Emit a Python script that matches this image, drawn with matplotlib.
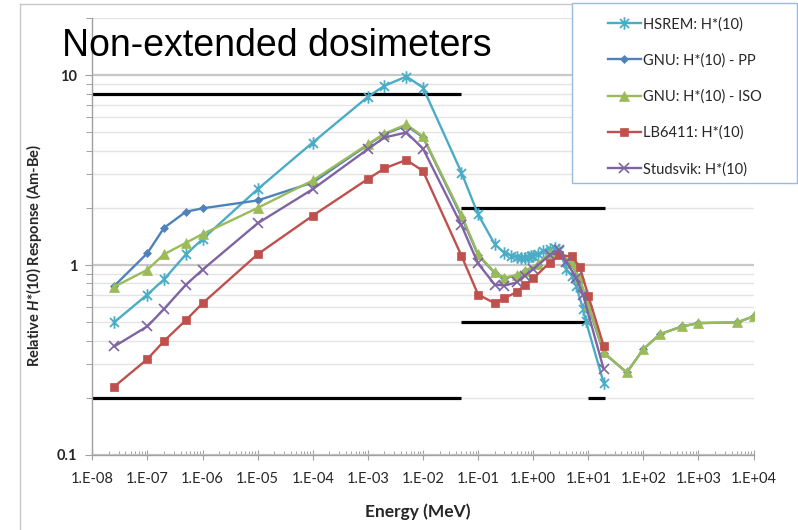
import numpy as np
import matplotlib
matplotlib.use("Agg")
import matplotlib.pyplot as plt
from matplotlib.path import Path
from matplotlib.patches import Rectangle
from matplotlib.lines import Line2D
from matplotlib.ticker import FixedLocator, FixedFormatter, NullFormatter

plt.rcParams['font.family'] = ['Lato', 'DejaVu Sans']
plt.rcParams['mathtext.fontset'] = 'custom'
plt.rcParams['mathtext.it'] = 'Lato:italic:bold'
plt.rcParams['mathtext.rm'] = 'Lato:bold'

# ---------------- data ----------------
series_names = ["HSREM: H*(10)", "GNU: H*(10) - PP", "GNU: H*(10) - ISO",
                "LB6411: H*(10)", "Studsvik: H*(10)"]

hsrem_energy = [2.5e-8, 1e-7, 2e-7, 5e-7, 1e-6, 1e-5, 1e-4, 1e-3, 2e-3, 5e-3, 1e-2,
                5e-2, 0.1, 0.2, 0.3, 0.4, 0.5, 0.6, 0.7, 0.8, 0.9, 1.0, 1.2, 1.5,
                2.0, 2.5, 3.0, 4.0, 5.0, 6.0, 8.0, 9.0, 19.0]
hsrem_resp = [0.50, 0.70, 0.84, 1.14, 1.37, 2.51, 4.42, 7.69, 8.79, 9.84, 8.61,
              3.07, 1.85, 1.29, 1.16, 1.12, 1.10, 1.09, 1.09, 1.10, 1.11, 1.12, 1.14, 1.18,
              1.22, 1.23, 1.20, 0.95, 0.88, 0.78, 0.59, 0.51, 0.24]

gnu_energy = [2.5e-8, 1e-7, 2e-7, 5e-7, 1e-6, 1e-5, 1e-4, 1e-3, 2e-3, 5e-3, 1e-2,
              5e-2, 0.1, 0.2, 0.3, 0.5, 0.7, 1.2, 2.0, 3.0, 5.0, 7.0, 10.0, 19.0,
              50.0, 100.0, 200.0, 500.0, 1000.0, 5000.0, 10000.0]
gnu_pp_resp = [0.776, 1.156, 1.57, 1.91, 1.99, 2.19, 2.72, 4.30, 4.90, 5.42, 4.72,
               1.80, 1.13, 0.91, 0.855, 0.88, 0.93, 1.00, 1.15, 1.17, 1.01, 0.84, 0.61, 0.345,
               0.272, 0.361, 0.433, 0.475, 0.495, 0.499, 0.537]
gnu_iso_resp = [0.769, 0.945, 1.14, 1.31, 1.456, 2.00, 2.79, 4.33, 4.93, 5.50, 4.76,
                1.84, 1.14, 0.915, 0.86, 0.886, 0.933, 1.01, 1.16, 1.18, 1.02, 0.85, 0.62, 0.347,
                0.272, 0.361, 0.433, 0.475, 0.495, 0.499, 0.537]

lb6411_energy = [2.5e-8, 1e-7, 2e-7, 5e-7, 1e-6, 1e-5, 1e-4, 1e-3, 2e-3, 5e-3, 1e-2,
                 5e-2, 0.1, 0.2, 0.3, 0.5, 0.7, 1.0, 2.0, 3.0, 5.0, 7.0, 10.0, 19.0]
lb6411_resp = [0.229, 0.32, 0.398, 0.513, 0.629, 1.14, 1.82, 2.84, 3.23, 3.58, 3.13,
               1.12, 0.70, 0.63, 0.67, 0.72, 0.785, 0.85, 1.03, 1.13, 1.11, 0.98, 0.69, 0.376]

studsvik_energy = [2.5e-8, 1e-7, 2e-7, 5e-7, 1e-6, 1e-5, 1e-4, 1e-3, 2e-3, 5e-3, 1e-2,
                   5e-2, 0.1, 0.2, 0.3, 0.5, 0.7, 1.0, 2.0, 3.0, 4.0, 6.0, 8.0, 19.0]
studsvik_resp = [0.373, 0.476, 0.587, 0.788, 0.945, 1.66, 2.51, 4.08, 4.70, 4.99, 4.11,
                 1.62, 1.02, 0.79, 0.78, 0.81, 0.88, 0.95, 1.13, 1.20, 1.04, 0.86, 0.70, 0.284]

# acceptance limits: level, energy range
limit_level = [8.0, 0.2, 2.0, 0.5, 0.2]
limit_start = [1e-8, 1e-8, 0.05, 0.05, 10.0]
limit_end = [0.05, 0.05, 20.0, 10.0, 20.0]

x_ticks = [1e-8, 1e-7, 1e-6, 1e-5, 1e-4, 1e-3, 1e-2, 1e-1, 1e0, 1e1, 1e2, 1e3, 1e4]
x_tick_labels = ["1.E-08", "1.E-07", "1.E-06", "1.E-05", "1.E-04", "1.E-03", "1.E-02",
                 "1.E-01", "1.E+00", "1.E+01", "1.E+02", "1.E+03", "1.E+04"]
y_ticks = [0.1, 1, 10]
y_tick_labels = ["0.1", "1", "10"]

# ---------------- figure ----------------
W, H = 798, 530
fig = plt.figure(figsize=(W / 100, H / 100), dpi=100)
fig.patch.set_facecolor("white")

x0, x1, yb, yt = 92.3, 753.6, 455.0, 18.0
ax = fig.add_axes([x0 / W, 1 - yb / H, (x1 - x0) / W, (yb - yt) / H])
ax.set_xscale("log")
ax.set_yscale("log")
ax.set_xlim(1e-8, 1e4)
ax.set_ylim(0.1, 20)

# ticks
ax.xaxis.set_major_locator(FixedLocator(x_ticks))
ax.xaxis.set_major_formatter(FixedFormatter(x_tick_labels))
x_minor = [m * d for d in x_ticks[:-1] for m in range(2, 10)]
ax.xaxis.set_minor_locator(FixedLocator(x_minor))
ax.xaxis.set_minor_formatter(NullFormatter())
ax.yaxis.set_major_locator(FixedLocator(y_ticks))
ax.yaxis.set_major_formatter(FixedFormatter(y_tick_labels))
y_minor = [m * d for d in [0.1, 1] for m in range(2, 10)] + [20]
ax.yaxis.set_minor_locator(FixedLocator(y_minor))
ax.yaxis.set_minor_formatter(NullFormatter())

ax.tick_params(axis="x", which="major", direction="inout", length=7, width=0.8,
               color="#A0A0A0", labelsize=10.5, labelcolor="#262626", pad=9)
ax.tick_params(axis="x", which="minor", direction="in", length=3, width=0.7, color="#A0A0A0")
ax.tick_params(axis="y", which="major", direction="out", length=5, width=0.8,
               color="#A0A0A0", labelsize=10.5, labelcolor="#262626", pad=6)
ax.tick_params(axis="y", which="minor", direction="out", length=4, width=0.7, color="#A0A0A0")
for lab in ax.get_yticklabels():
    lab.set_fontweight("bold")

for s in ["top", "right"]:
    ax.spines[s].set_visible(False)
for s in ["left", "bottom"]:
    ax.spines[s].set_color("#A0A0A0")
    ax.spines[s].set_linewidth(1.0)

ax.grid(False)
ax.yaxis.grid(True, which="major", color="#C8C8C8", linewidth=1.6)
ax.yaxis.grid(True, which="minor", color="#E4E4E4", linewidth=1.0)
ax.set_axisbelow(True)

# limit lines
for lv, s, e in zip(limit_level, limit_start, limit_end):
    ax.plot([s, e], [lv, lv], color="black", linewidth=2.3, solid_capstyle="butt", zorder=2)

# marker for HSREM: X with vertical bar
star_path = Path([(0, -1), (0, 1), (-0.72, -0.72), (0.72, 0.72), (-0.72, 0.72), (0.72, -0.72)],
                 [Path.MOVETO, Path.LINETO, Path.MOVETO, Path.LINETO, Path.MOVETO, Path.LINETO])

styles = [
    dict(color="#4BACC6", marker=star_path, ms=9, mew=1.3, mfc="none"),
    dict(color="#4F81BD", marker="D", ms=4.5, mew=0.5),
    dict(color="#9BBB59", marker="^", ms=6.5, mew=0.5),
    dict(color="#C0504D", marker="s", ms=6.0, mew=0.5),
    dict(color="#8064A2", marker="x", ms=7.5, mew=1.2),
]
series = [(hsrem_energy, hsrem_resp), (gnu_energy, gnu_pp_resp), (gnu_energy, gnu_iso_resp),
          (lb6411_energy, lb6411_resp), (studsvik_energy, studsvik_resp)]

handles = []
for (e, r), st, name in zip(series, styles, series_names):
    ln, = ax.plot(e, r, color=st["color"], linewidth=1.7, marker=st["marker"],
                  markersize=st["ms"], markeredgewidth=st["mew"],
                  markerfacecolor=st.get("mfc", st["color"]), markeredgecolor=st["color"],
                  zorder=3)
    handles.append(Line2D([], [], color=st["color"], linewidth=1.7, marker=st["marker"],
                          markersize=st["ms"], markeredgewidth=st["mew"],
                          markerfacecolor=st.get("mfc", st["color"]),
                          markeredgecolor=st["color"]))

# chart border
fig.add_artist(Line2D([20 / W, 20 / W], [0, 1 - 4 / H], transform=fig.transFigure,
                      color="#C8C8C8", linewidth=1.0))
fig.add_artist(Line2D([20 / W, 1], [1 - 4 / H, 1 - 4 / H], transform=fig.transFigure,
                      color="#C8C8C8", linewidth=1.0))

# legend box
box = Rectangle((572 / W, 1 - 183 / H), (797 - 572) / W, (183 - 3) / H,
                transform=fig.transFigure, facecolor="white", edgecolor="#9DB9DC",
                linewidth=1.0, zorder=4)
fig.add_artist(box)
leg = fig.legend(handles, series_names, loc="upper left",
                 bbox_to_anchor=(608 / W, 1 - 17 / H), frameon=False,
                 fontsize=10.5, handlelength=2.25, handletextpad=0.15,
                 labelspacing=1.5, borderpad=0, borderaxespad=0, numpoints=1)
leg.set_zorder(5)
for t in leg.get_texts():
    t.set_color("#262626")

# title and axis labels
fig.text(62 / W, 1 - 46 / H, "Non-extended dosimeters", fontsize=27,
         family="Liberation Sans", color="black", ha="left", va="center", zorder=6)
fig.text(34 / W, 1 - 256 / H, r"Relative $\mathit{H}$*(10) Response (Am-Be)",
         rotation=90, fontsize=10.5, fontweight="bold", color="#262626",
         ha="center", va="center")
fig.text(418 / W, 1 - 512 / H, "Energy (MeV)", fontsize=12.5, fontweight="bold",
         color="#262626", ha="center", va="center")

fig.savefig("out.png", dpi=100, facecolor="white")
